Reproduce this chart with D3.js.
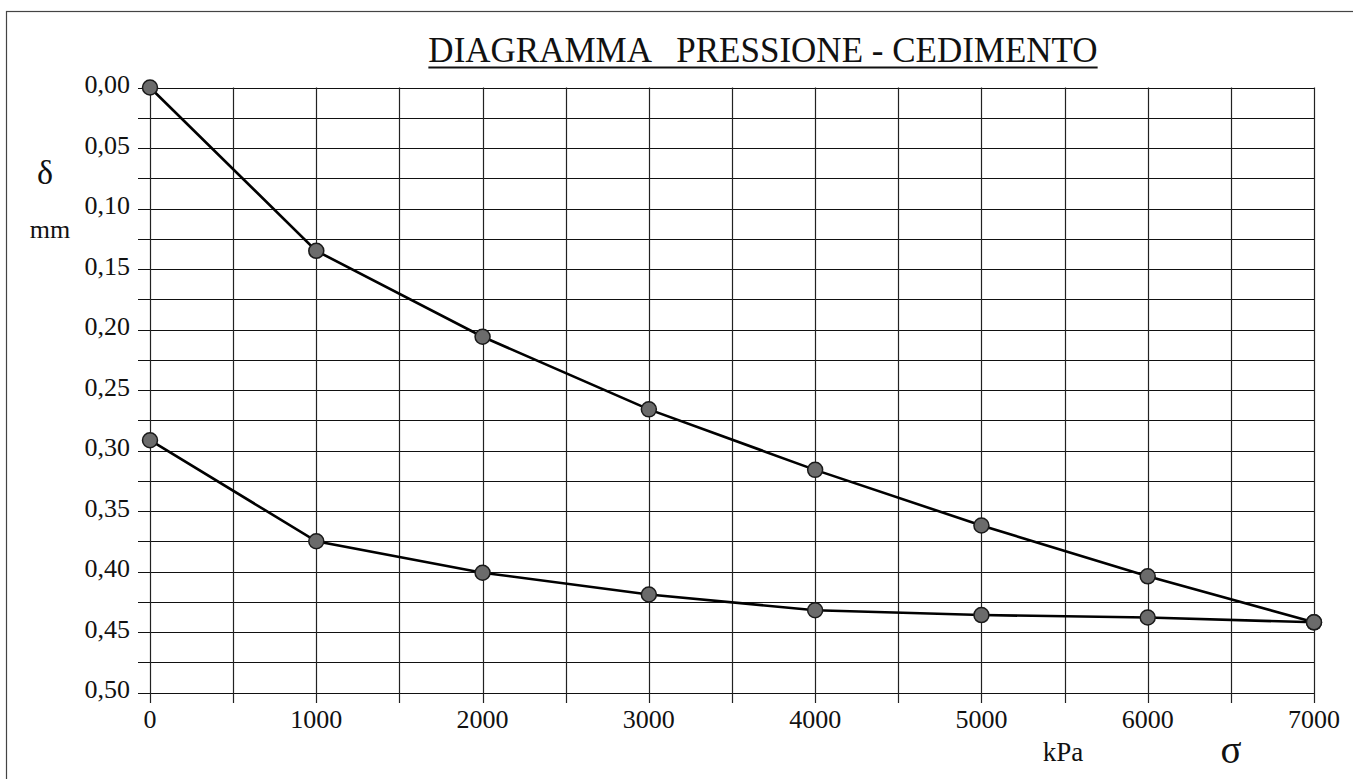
<!DOCTYPE html>
<html><head><meta charset="utf-8">
<script src="https://cdn.jsdelivr.net/npm/d3@7"></script>
<style>
html,body{margin:0;padding:0;background:#fff;}
svg{display:block;font-family:"Liberation Serif","Times New Roman",serif;}
</style></head>
<body>
<svg id="chart" width="1353" height="779"></svg>
<script>
// Data
const pressures = [0, 1000, 2000, 3000, 4000, 5000, 6000, 7000];
const loading = [0.000, 0.135, 0.206, 0.266, 0.316, 0.362, 0.404, 0.442];
const unloading = [0.2915, 0.375, 0.401, 0.419, 0.432, 0.436, 0.438, 0.442];
const xTicks = [0, 1000, 2000, 3000, 4000, 5000, 6000, 7000];
const yTicks = [0, 0.05, 0.10, 0.15, 0.20, 0.25, 0.30, 0.35, 0.40, 0.45, 0.50];
const xGrid = d3.range(0, 7001, 500);
const yGrid = d3.range(0, 0.5001, 0.025);
const title = "DIAGRAMMA   PRESSIONE - CEDIMENTO";

const svg = d3.select("#chart");
const x = d3.scaleLinear().domain([0, 7000]).range([150, 1314]);
const y = d3.scaleLinear().domain([0, 0.5]).range([87.5, 692.5]);

// frame
svg.append("rect").attr("x", 6.5).attr("y", 11.5).attr("width", 1400).attr("height", 800)
  .attr("fill", "none").attr("stroke", "#444").attr("stroke-width", 1.2);

// grid
svg.append("g").selectAll("line").data(yGrid).join("line")
  .attr("x1", 138).attr("x2", x(7000))
  .attr("y1", d => Math.round(y(d)) + 0.5).attr("y2", d => Math.round(y(d)) + 0.5)
  .attr("stroke", "#111").attr("stroke-width", 1.2);
svg.append("g").selectAll("line").data(xGrid).join("line")
  .attr("y1", y(0)).attr("y2", 703)
  .attr("x1", d => Math.round(x(d)) + 0.5).attr("x2", d => Math.round(x(d)) + 0.5)
  .attr("stroke", "#222").attr("stroke-width", 1.2);

// tick labels
svg.append("g").selectAll("text").data(yTicks).join("text")
  .attr("x", 130).attr("y", d => y(d) + 5.5)
  .attr("text-anchor", "end").attr("font-size", 26).attr("fill", "#111")
  .text(d => d3.format(".2f")(d).replace(".", ","));
svg.append("g").selectAll("text").data(xTicks).join("text")
  .attr("x", d => x(d)).attr("y", 728)
  .attr("text-anchor", "middle").attr("font-size", 26).attr("fill", "#111")
  .text(d => d);

// lines
const line = d3.line().x(d => x(d[0])).y(d => y(d[1]));
[loading, unloading].forEach(series => {
  const pts = pressures.map((p, i) => [p, series[i]]);
  svg.append("path").datum(pts).attr("d", line)
    .attr("fill", "none").attr("stroke", "#000").attr("stroke-width", 2.6);
});
[loading, unloading].forEach(series => {
  const pts = pressures.map((p, i) => [p, series[i]]);
  svg.append("g").selectAll("circle").data(pts).join("circle")
    .attr("cx", d => x(d[0])).attr("cy", d => y(d[1])).attr("r", 7.5)
    .attr("fill", "#6b6b6b").attr("stroke", "#1a1a1a").attr("stroke-width", 1.5);
});

// title
const t = svg.append("text").attr("x", 763).attr("y", 62)
  .attr("text-anchor", "middle").attr("font-size", 35).attr("fill", "#111")
  .style("white-space", "pre").attr("xml:space", "preserve").text(title);
const bb = t.node().getBBox();
svg.append("line").attr("x1", bb.x).attr("x2", bb.x + bb.width)
  .attr("y1", 67.5).attr("y2", 67.5).attr("stroke", "#111").attr("stroke-width", 2);

// axis labels
svg.append("text").attr("x", 45).attr("y", 184).attr("text-anchor", "middle")
  .attr("font-size", 34).attr("fill", "#111").text("δ");
svg.append("text").attr("x", 50).attr("y", 238).attr("text-anchor", "middle")
  .attr("font-size", 26).attr("fill", "#111").text("mm");
svg.append("text").attr("x", 1063).attr("y", 761).attr("text-anchor", "middle")
  .attr("font-size", 27).attr("fill", "#111").text("kPa");
svg.append("text").attr("x", 1231).attr("y", 763).attr("text-anchor", "middle")
  .attr("font-size", 39).attr("fill", "#111").text("σ");
</script>
</body></html>
